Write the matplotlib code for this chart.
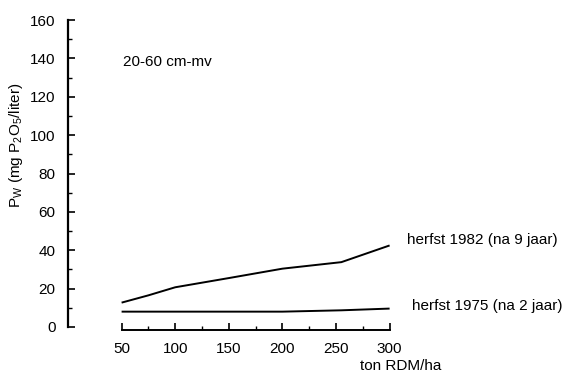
import matplotlib
matplotlib.use("Agg")
import matplotlib.pyplot as plt
from matplotlib.ticker import MultipleLocator, FixedLocator

plt.rcParams['font.family'] = ['Liberation Sans', 'DejaVu Sans']
plt.rcParams['mathtext.default'] = 'regular'

# Dose of RDM (ton/ha) and the measured Pw values in the 20-60 cm layer
dose = [50, 75, 100, 150, 200, 255, 300]
pw_1982 = [12.7, 16.5, 20.7, 25.5, 30.4, 33.8, 42.5]
pw_1975 = [8.0, 8.0, 8.0, 8.0, 8.0, 8.7, 9.6]
label_1982 = "herfst 1982 (na 9 jaar)"
label_1975 = "herfst 1975 (na 2 jaar)"
x_ticks = [50, 100, 150, 200, 250, 300]
x_minor = [75, 125, 175, 225, 275]
y_ticks = [0, 20, 40, 60, 80, 100, 120, 140, 160]

W, H = 570, 377
fig = plt.figure(figsize=(W / 100, H / 100), dpi=100)
ax_left, ax_right = 68, 560
ax_top, ax_bottom = 20, 327
ax = fig.add_axes([ax_left / W, (H - ax_bottom) / H,
                   (ax_right - ax_left) / W, (ax_bottom - ax_top) / H])

ax.plot(dose, pw_1982, color='black', lw=1.4, solid_capstyle='butt')
ax.plot(dose, pw_1975, color='black', lw=1.4, solid_capstyle='butt')

ax.set_xlim(0, (ax_right - ax_left) / 1.072)
ax.set_ylim(0, 160)

for side in ('top', 'right'):
    ax.spines[side].set_visible(False)
ax.spines['left'].set_linewidth(1.6)
ax.spines['bottom'].set_linewidth(1.4)
ax.spines['bottom'].set_bounds(50, 300)
ax.spines['bottom'].set_position(('outward', 2))

ax.set_xticks(x_ticks)
ax.xaxis.set_minor_locator(FixedLocator(x_minor))
ax.set_yticks(y_ticks)
ax.yaxis.set_minor_locator(MultipleLocator(10))
ax.tick_params(axis='both', which='major', direction='in', length=5,
               width=1.2, labelsize=11, color='black')
ax.tick_params(axis='both', which='minor', direction='in', length=3,
               width=1.0, color='black')
ax.tick_params(axis='x', which='both', pad=9)
ax.tick_params(axis='y', which='both', pad=9)

def px(x, y):
    """Figure-pixel position (from top-left) to figure fraction."""
    return x / W, 1 - y / H

fig.text(*px(123, 62), "20-60 cm-mv", fontsize=11, va='center', ha='left')
fig.text(*px(407, 240), label_1982, fontsize=11, va='center', ha='left')
fig.text(*px(412, 306), label_1975, fontsize=11, va='center', ha='left')
fig.text(*px(360, 366), "ton RDM/ha", fontsize=11, va='center', ha='left')
fig.text(*px(16, 145), r"P$_W$ (mg P$_2$O$_5$/liter)", fontsize=11,
         rotation=90, va='center', ha='center')

fig.savefig("out.png", dpi=100, facecolor='white')
